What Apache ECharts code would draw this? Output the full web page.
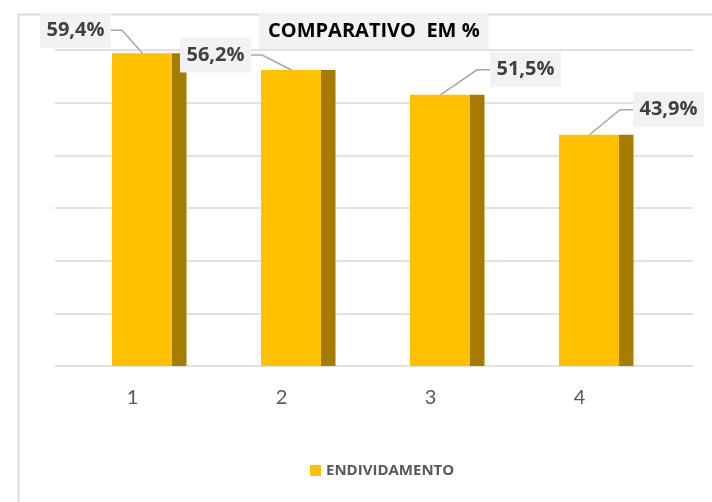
<!DOCTYPE html>
<html>
<head>
<meta charset="utf-8">
<script src="https://cdn.jsdelivr.net/npm/echarts@6/dist/echarts.min.js"></script>
<style>
html,body{margin:0;padding:0;background:#fff;}
#chart{width:712px;height:502px;}
</style>
</head>
<body>
<div id="chart"></div>
<script>
// ---- data ----
var categories = ['1', '2', '3', '4'];
var seriesName = 'ENDIVIDAMENTO';
var values = [59.4, 56.2, 51.5, 43.9];
var valueLabels = ['59,4%', '56,2%', '51,5%', '43,9%'];
var titleText = 'COMPARATIVO  EM %';

// ---- styling (label box offsets from bar top, in px) ----
var labelOffsets = [[-67, -23], [-76, -15], [85, -25], [79, -25]];

var chart = echarts.init(document.getElementById('chart'));
var FONT = '"Open Sans", Lato, "Noto Sans", sans-serif';
var FONT2 = 'Lato, "Open Sans", sans-serif';

function renderBar(params, api) {
  var i = api.value(0);
  var v = api.value(1);
  var top = api.coord([i, v]);
  var base = api.coord([i, 0]);
  var cx = top[0];
  var h = base[1] - top[1];
  var frontL = cx - 20.5, frontW = 60, sideW = 14.5;
  var ax = cx + 10, ay = top[1];
  var off = labelOffsets[params.dataIndex];
  var bw = 71, bh = 35;
  var bx = ax + off[0], by = ay + off[1];
  var pts;
  if (off[0] < 0) {
    var edge = bx + bw / 2;
    pts = [[edge, by], [edge + 11, by], [ax, ay]];
  } else {
    var edgeL = bx - bw / 2;
    pts = [[ax, ay], [edgeL - 13, by], [edgeL, by]];
  }
  return {
    type: 'group',
    children: [
      { type: 'rect', shape: { x: frontL, y: top[1], width: frontW, height: h },
        style: { fill: '#FFC000' } },
      { type: 'rect', shape: { x: frontL + frontW, y: top[1], width: sideW, height: h },
        style: { fill: '#A67C00' } },
      { type: 'polyline', shape: { points: pts },
        style: { stroke: '#A6A6A6', lineWidth: 1.5, fill: null }, z2: 5 },
      { type: 'rect', shape: { x: bx - bw / 2, y: by - bh / 2, width: bw, height: bh },
        style: { fill: '#F2F2F2' }, z2: 6 },
      { type: 'text', x: bx, y: by, z2: 7,
        style: { text: valueLabels[params.dataIndex], fill: '#404040',
          font: 'bold 20px ' + FONT, align: 'center', verticalAlign: 'middle' } }
    ]
  };
}

var option = {
  backgroundColor: '#ffffff',
  animation: false,
  title: {
    text: titleText,
    left: 259, top: 13,
    backgroundColor: '#F2F2F2',
    padding: [8, 9, 8, 9],
    textStyle: { fontFamily: FONT, fontWeight: 'bold', fontSize: 20, color: '#000000' }
  },
  legend: {
    data: [seriesName],
    left: 305, top: 458,
    itemWidth: 11, itemHeight: 11, itemGap: 5,
    icon: 'rect',
    textStyle: { fontFamily: FONT, fontWeight: 'bold', fontSize: 15, color: '#595959' }
  },
  graphic: [
    { type: 'rect', left: 16, top: 12, silent: true, z: -10,
      shape: { x: 0, y: 0, width: 720, height: 520 },
      style: { fill: 'none', stroke: '#D9D9D9', lineWidth: 2 } }
  ],
  grid: [
    { left: 55, top: 50, width: 638, height: 316 },
    { left: 58, top: 50, width: 596, height: 316 }
  ],
  xAxis: [
    { gridIndex: 0, type: 'value', min: 0, max: 1, show: false },
    { gridIndex: 1, type: 'category', data: categories,
      axisLine: { show: false }, axisTick: { show: false },
      axisLabel: { margin: 22, fontFamily: FONT2, fontSize: 20, color: '#595959' } }
  ],
  yAxis: [
    { gridIndex: 0, type: 'value', min: 0, max: 60, interval: 10,
      axisLine: { show: false }, axisTick: { show: false }, axisLabel: { show: false },
      splitLine: { show: true, lineStyle: { color: '#D9D9D9', width: 1.5 } } },
    { gridIndex: 1, type: 'value', min: 0, max: 60, interval: 10, show: false,
      splitLine: { show: false } }
  ],
  series: [
    {
      name: seriesName,
      type: 'custom',
      xAxisIndex: 1, yAxisIndex: 1,
      itemStyle: { color: '#FFC000' },
      renderItem: renderBar,
      encode: { x: 0, y: 1 },
      data: values.map(function (v, i) { return [i, v]; }),
      z: 3
    }
  ]
};
chart.setOption(option);
</script>
</body>
</html>
